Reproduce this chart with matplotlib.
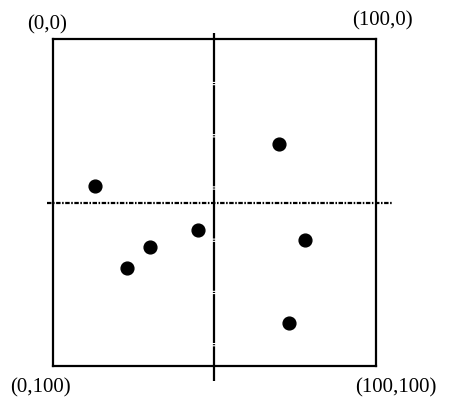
import matplotlib
matplotlib.use("Agg")
import matplotlib.pyplot as plt

xs = [13, 70, 45, 30, 78, 23, 73]
ys = [45, 32, 58.5, 63.5, 61.5, 70, 87]
corner_labels = ["(0,0)", "(100,0)", "(0,100)", "(100,100)"]

fig = plt.figure(figsize=(4.55, 4.14), dpi=100)
ax = fig.add_axes([52.5/455, (414-367)/414, 323.5/455, 327/414])
ax.set_xlim(0, 100)
ax.set_ylim(100, 0)
ax.set_xticks([])
ax.set_yticks([])
for s in ax.spines.values():
    s.set_linewidth(1.6)
    s.set_color("black")

ax.plot([50, 50], [-1.8, 104.6], color="black", lw=1.6,
        linestyle=(0, (22, 0.5, 0.5, 0.5)), clip_on=False)
ax.plot([-1.7, 105.2], [50, 50], color="black", lw=1.6,
        linestyle=(0, (2, 0.7, 0.7, 0.7)), clip_on=False)

ax.plot(xs, ys, "o", color="black", markersize=9.2, clip_on=False)

font = dict(family=["Liberation Serif", "DejaVu Serif"], fontsize=15)
ax.text(-0.017, 1.018, corner_labels[0], transform=ax.transAxes, ha="center", va="bottom", **font)
ax.text(1.020, 1.028, corner_labels[1], transform=ax.transAxes, ha="center", va="bottom", **font)
ax.text(-0.036, -0.034, corner_labels[2], transform=ax.transAxes, ha="center", va="top", **font)
ax.text(1.062, -0.034, corner_labels[3], transform=ax.transAxes, ha="center", va="top", **font)

fig.savefig("out.png", dpi=100)
